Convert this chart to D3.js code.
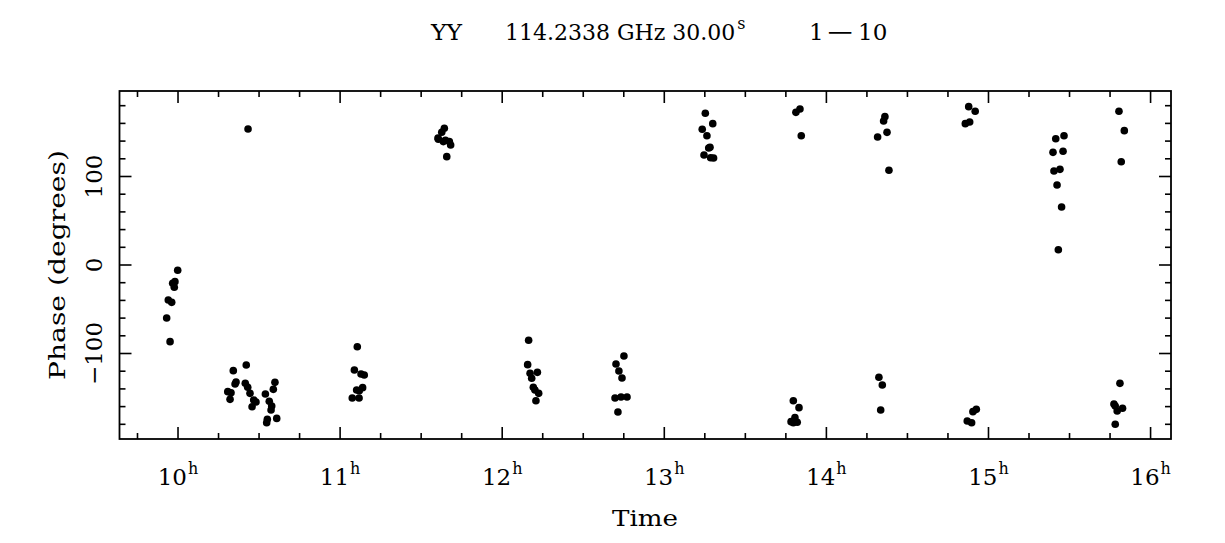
<!DOCTYPE html>
<html><head><meta charset="utf-8">
<script src="https://cdn.jsdelivr.net/npm/d3@7"></script>
<style>body{margin:0;background:#fff}svg{display:block}text{font-family:"DejaVu Serif",serif;fill:#000}</style>
</head><body>
<script>
// time in hours, phase in degrees
const times = [
 9.998,9.981,9.967,9.977,9.940,9.961,9.930,9.951,
 10.341,10.421,10.352,10.358,10.307,10.327,10.321,10.415,10.430,10.444,10.457,10.467,10.481,10.539,10.563,10.578,10.574,10.551,10.547,10.609,10.598,10.588,10.432,
 11.106,11.088,11.129,11.149,11.139,11.102,11.118,11.075,11.117,
 11.643,11.627,11.606,11.637,11.674,11.682,11.658,11.604,11.650,
 12.163,12.157,12.172,12.217,12.182,12.192,12.202,12.225,12.208,
 12.751,12.702,12.720,12.739,12.696,12.733,12.770,12.714,
 13.253,13.299,13.234,13.263,13.282,13.274,13.245,13.286,13.304,
 13.837,13.812,13.845,13.796,13.831,13.806,13.782,13.796,13.820,
 14.361,14.353,14.374,14.316,14.386,14.324,14.345,14.335,
 14.878,14.918,14.857,14.884,14.925,14.904,14.869,14.896,
 15.466,15.415,15.398,15.460,15.404,15.441,15.423,15.451,15.431,
 15.805,15.838,15.819,15.811,15.774,15.782,15.827,15.794,15.782
];
const phases = [
 -6.0,-18.8,-20.7,-25.2,-39.5,-42.2,-59.9,-86.6,
 -119.4,-113,-134.5,-132.2,-143.1,-144.3,-151.8,-133.7,-138.2,-145,-160.1,-152.5,-154.8,-145.8,-154,-159.3,-163.8,-174.4,-178.2,-173.3,-132.6,-140.5,153.7,
 -92.3,-118.6,-123.2,-124.3,-138.6,-141.2,-142,-150.3,-150.3,
 154.5,150,142.1,139.4,139.4,135.6,122.4,143.5,141,
 -85.1,-112.6,-122.4,-121.3,-128,-138.2,-141.2,-145,-153.3,
 -102.8,-111.9,-119.8,-127.7,-150.3,-149.2,-149.2,-166.1,
 171.4,159.7,153.3,146.1,133,132.2,124.3,121.2,120.9,
 176.3,172.5,146.1,-153.3,-161.2,-172.5,-177,-178.2,-177.7,
 167.6,162.7,149.9,144.6,107,-126.9,-135.6,-163.8,
 178.9,173.7,159.7,161.6,-163.1,-165.7,-176.3,-178.2,
 146.1,142.7,127.3,128.5,106.2,108.1,90.4,65.5,17.3,
 173.7,151.8,116.7,-133.7,-157.1,-159.3,-161.9,-165,-180
];
const xTickHours = [10,11,12,13,14,15,16];
const yTickValues = [-100,0,100];
const titleParts = ["YY", "114.2338 GHz 30.00", "s", "1", "\u2212", "10"];

const W=1225,H=543;
const L=119.5,R=1171,T=91,B=439;
const svg=d3.select("body").append("svg").attr("width",W).attr("height",H);
const x=d3.scaleLinear().domain([9.639,16.126]).range([L,R]);
const y=d3.scaleLinear().domain([-196.6,196.6]).range([B,T]);

// frame
svg.append("rect").attr("x",L).attr("y",T).attr("width",R-L).attr("height",B-T)
  .attr("fill","none").attr("stroke","#000").attr("stroke-width",1.8);

const minorX=d3.range(9.75,16.126,0.25);
const minorY=d3.range(-180,197,20);
const g=svg.append("g").attr("stroke","#000").attr("stroke-width",1.6);
minorX.forEach(h=>{
  const major=Math.abs(h-Math.round(h))<1e-6;
  const len=major?12:6;
  g.append("line").attr("x1",x(h)).attr("x2",x(h)).attr("y1",B).attr("y2",B-len);
  g.append("line").attr("x1",x(h)).attr("x2",x(h)).attr("y1",T).attr("y2",T+len);
});
minorY.forEach(v=>{
  const major=v%100===0;
  const len=major?12:6;
  g.append("line").attr("y1",y(v)).attr("y2",y(v)).attr("x1",L).attr("x2",L+len);
  g.append("line").attr("y1",y(v)).attr("y2",y(v)).attr("x1",R).attr("x2",R-len);
});

// x tick labels
xTickHours.forEach(h=>{
  const t=svg.append("text").attr("x",x(h)).attr("y",485).attr("font-size",23).attr("text-anchor","middle");
  t.append("tspan").text(h);
  t.append("tspan").attr("font-size",16).attr("dy",-11).attr("dx",1).text("h");
});
// y tick labels (rotated)
yTickValues.forEach(v=>{
  svg.append("text").attr("transform",`translate(102,${y(v)}) rotate(-90)`)
    .attr("font-size",23).attr("text-anchor","middle").text(v<0?"\u2212"+Math.abs(v):v);
});
// axis titles
svg.append("text").attr("x",612).attr("y",526).attr("font-size",23)
  .attr("textLength",66).attr("lengthAdjust","spacingAndGlyphs").text("Time");
svg.append("text").attr("transform",`translate(65,380) rotate(-90)`).attr("font-size",23)
  .attr("textLength",230).attr("lengthAdjust","spacingAndGlyphs").text("Phase (degrees)");

// title
const ty=40;
svg.append("text").attr("x",431).attr("y",ty).attr("font-size",23)
  .attr("textLength",31).attr("lengthAdjust","spacingAndGlyphs").text(titleParts[0]);
const mid=svg.append("text").attr("x",505).attr("y",ty).attr("font-size",22);
mid.append("tspan").text(titleParts[1]);
mid.append("tspan").attr("font-size",16).attr("dx",2).attr("dy",-11).text(titleParts[2]);
svg.append("text").attr("x",809).attr("y",ty).attr("font-size",23).text(titleParts[3]);
svg.append("text").attr("x",825).attr("y",ty).attr("font-size",23)
  .attr("textLength",30).attr("lengthAdjust","spacingAndGlyphs").text(titleParts[4]);
svg.append("text").attr("x",858).attr("y",ty).attr("font-size",23).text(titleParts[5]);

// points
svg.append("g").selectAll("circle").data(times.map((t,i)=>[t,phases[i]])).join("circle")
  .attr("cx",d=>x(d[0])).attr("cy",d=>y(d[1])).attr("r",3.8).attr("fill","#000");
</script>
</body></html>
